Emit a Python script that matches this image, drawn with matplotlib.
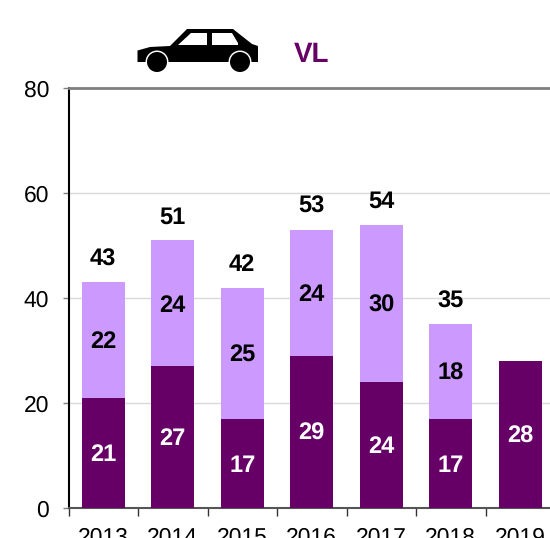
import numpy as np
import matplotlib
matplotlib.use("Agg")
import matplotlib.pyplot as plt
from matplotlib.patches import Polygon, Circle

years = ["2013", "2014", "2015", "2016", "2017", "2018", "2019"]
dark_vals = [21, 27, 17, 29, 24, 17, 28]
light_vals = [22, 24, 25, 24, 30, 18, np.nan]
totals = [43, 51, 42, 53, 54, 35, np.nan]

DARK = "#660066"
LIGHT = "#cc99ff"
W, H = 550, 538
FS = 16.5
BOLD_FS = 17

plt.rcParams['font.family'] = ['Liberation Sans', 'DejaVu Sans']
plt.rcParams['text.hinting'] = 'no_hinting'

fig = plt.figure(figsize=(5.5, 5.38), dpi=100)
# the plot runs past the right edge of the picture, like the original
left, right, top, bottom = 68.5, 555, 88, 508
ax = fig.add_axes([left / W, 1 - bottom / H, (right - left) / W, (bottom - top) / H])
ax.set_xlim(-0.5, 6.5)
ax.set_ylim(0, 80)

x = np.arange(len(years))
light_h = np.nan_to_num(light_vals)
ax.bar(x, dark_vals, width=0.62, color=DARK, zorder=3)
ax.bar(x, light_h, width=0.62, bottom=dark_vals, color=LIGHT, zorder=3)

nudge = -0.4  # text box centre sits a little above the digits
for i in x:
    ax.text(i, dark_vals[i] / 2 + nudge, str(dark_vals[i]), color="white", fontsize=BOLD_FS,
            fontweight="bold", ha="center", va="center", zorder=4)
    if not np.isnan(light_vals[i]):
        ax.text(i, dark_vals[i] + light_vals[i] / 2 + nudge, str(light_vals[i]), color="black",
                fontsize=BOLD_FS, fontweight="bold", ha="center", va="center", zorder=4)
        ax.text(i, totals[i] + 4.8 + nudge, str(totals[i]), color="black", fontsize=BOLD_FS,
                fontweight="bold", ha="center", va="center", zorder=4)

ax.set_yticks([0, 20, 40, 60, 80])
ax.set_xticks(x, years)
ax.set_xticks(np.arange(-0.5, 7), minor=True)
ax.grid(axis="y", color="#d9d9d9", lw=1.0, zorder=0)
ax.tick_params(axis="y", labelsize=FS, length=4.5, width=1, color="#808080", pad=9.5)
ax.tick_params(axis="x", which="major", length=0, labelsize=FS, pad=14)
ax.tick_params(axis="x", which="minor", length=6, width=1, color="#333333")
ax.spines["right"].set_visible(False)
ax.spines["top"].set_color("#808080")
ax.spines["top"].set_linewidth(2)
ax.spines["bottom"].set_color("#555555")
ax.spines["bottom"].set_linewidth(1.5)
ax.spines["left"].set_color("black")
ax.spines["left"].set_linewidth(1.5)

fig.text(312 / W, 1 - 54.5 / H, "VL", color=DARK, fontsize=20, fontweight="bold",
         ha="center", va="center")

# car icon, in picture pixels
icon = fig.add_axes([0, 0, 1, 1], facecolor="none")
icon.set_xlim(0, W)
icon.set_ylim(H, 0)
icon.axis("off")
body = [(137.5, 50.5), (137.5, 62), (258, 62), (258, 46), (252, 44), (233, 29), (187, 29),
        (170, 46), (150, 47)]
icon.add_patch(Polygon(body, closed=True, fc="black", ec="none"))
icon.add_patch(Polygon([(178, 45), (191, 33), (207, 33), (207, 45)], closed=True, fc="white", ec="none"))
icon.add_patch(Polygon([(212, 33), (232, 33), (238, 43), (238, 45), (212, 45)], closed=True, fc="white", ec="none"))
for cx in (157, 240):
    icon.add_patch(Circle((cx, 62), 11.5, fc="white", ec="none"))
    icon.add_patch(Circle((cx, 62), 10, fc="black", ec="none"))

fig.savefig("out.png", dpi=100)
